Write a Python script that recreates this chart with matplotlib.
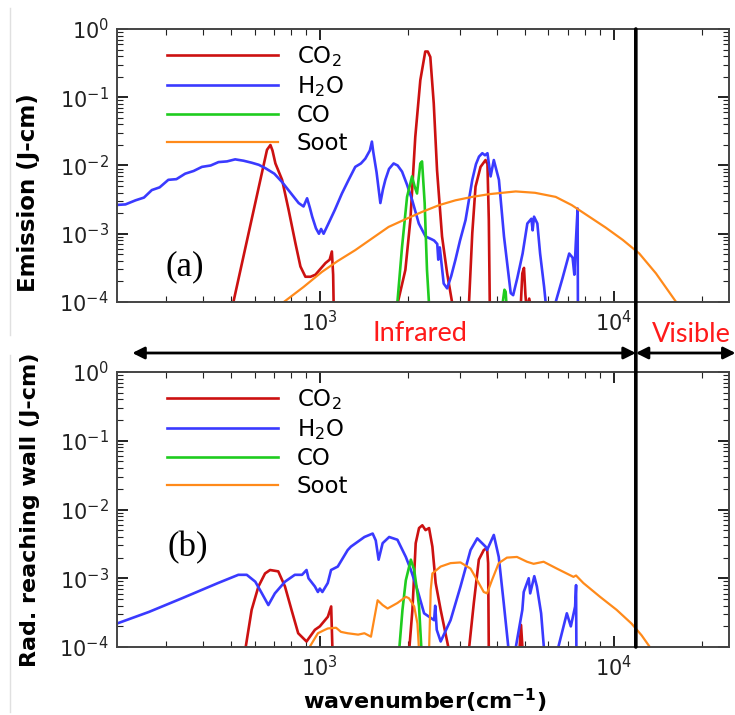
import numpy as np
import matplotlib
matplotlib.use("Agg")
import matplotlib.pyplot as plt
from matplotlib import transforms
from matplotlib.patches import ConnectionPatch
from matplotlib.lines import Line2D
from matplotlib.ticker import LogLocator, NullFormatter

plt.rcParams["font.family"] = ["DejaVu Sans"]
plt.rcParams["mathtext.default"] = "regular"

# ============================================================
# DATA  (x = wavenumber cm-1, y = log10 of value; None = gap below 1e-4)
# ============================================================
# ---- (a) emission ----
a_co2_x = [505, 661, 679, 690, 706, 744, 783, 826, 859, 893, 930, 966, 1045, 1080, 1099, 1110, 1115, None,
           1833, 1955, 2033, 2113, 2198, 2285, 2330, 2377, 2442, 2506, 2606, 2712, 2818, None,
           3216, 3303, 3388, 3524, 3665, 3720, 3760, 3790, None,
           4830, 4889, 4953, 5010, 5060, None,
           5100, 5160, 5220]
a_co2_y = [-4.05, -1.77, -1.70, -1.78, -1.97, -2.21, -2.65, -3.14, -3.48, -3.63, -3.63, -3.60, -3.43, -3.38, -3.26, -3.6, -4.1, None,
           -4.05, -3.53, -2.80, -1.58, -0.75, -0.33, -0.33, -0.41, -1.09, -2.07, -3.04, -3.58, -4.0, None,
           -4.05, -2.99, -2.31, -2.02, -1.92, -1.98, -2.8, -4.1, None,
           -4.05, -3.58, -3.50, -3.9, -4.1, None,
           -4.05, -3.95, -4.05]

a_h2o_x = [200, 218, 236, 252, 268, 285, 305, 325, 348, 372, 397, 425, 452, 483, 515, 550, 587, 620, 653, 700,
           743, 795, 847, 880, 905, 925, 942, 970, 993, 1010, 1030, 1070, 1125, 1189, 1250, 1320, 1380, 1428,
           1480, 1504, 1520, 1560, 1607, 1640, 1671, 1720, 1783, 1840, 1905, 1980, 2060, 2172, 2290, 2400,
           2450, 2510, 2530, 2560, 2640, 2712, 2800, 2895, 3000, 3133, 3303, 3400, 3482, 3573, 3650, 3720,
           3813, 3910, 4070, 4235, 4464, 4550, 4700, 4900, 5085, 5250, 5300, 5360, 5500, 5620, 5800, 5900, None,
           6300, 6350, 6700, 7060, 7250, 7350, 7430, 7540, 7560]
a_h2o_y = [-2.58, -2.57, -2.51, -2.47, -2.36, -2.32, -2.21, -2.20, -2.12, -2.08, -2.02, -2.00, -1.95, -1.94, -1.91, -1.93, -1.96, -1.99, -2.04, -2.12,
           -2.24, -2.40, -2.55, -2.60, -2.48, -2.62, -2.75, -2.92, -3.00, -2.93, -3.00, -2.85, -2.65, -2.41, -2.22, -2.02, -1.97, -1.90,
           -1.78, -1.65, -1.80, -2.10, -2.55, -2.35, -2.21, -2.05, -1.97, -2.00, -2.09, -2.28, -2.50, -2.85, -3.04, -3.08,
           -3.10, -3.15, -3.38, -3.20, -3.73, -3.80, -3.62, -3.38, -3.10, -2.80, -2.21, -1.98, -1.87, -1.82, -1.85, -1.82,
           -2.16, -1.92, -2.21, -3.04, -3.87, -3.90, -3.65, -3.29, -2.85, -2.78, -2.95, -2.75, -2.85, -3.29, -3.78, -4.1, None,
           -4.1, -4.0, -3.65, -3.29, -3.35, -3.60, -3.16, -2.63, -4.2]

a_co_x = [1833, 1905, 1981, 2060, 2100, 2142, 2198, 2228, 2274, 2316, 2355, None,
          4180, 4250, 4290, 4320]
a_co_y = [-4.05, -3.19, -2.46, -2.16, -2.30, -2.41, -1.97, -1.94, -2.55, -3.53, -4.05, None,
          -4.05, -3.82, -3.85, -4.05]

a_soot_x = [754, 880, 1016, 1150, 1320, 1504, 1714, 1950, 2228, 2550, 2895, 3300, 3767, 4643, 5400, 6350,
            7200, 8260, 9400, 10740, 12230, 13930, 16320, 17000]
a_soot_y = [-4.0, -3.78, -3.56, -3.40, -3.24, -3.07, -2.90, -2.79, -2.68, -2.58, -2.51, -2.46, -2.42, -2.38, -2.40, -2.46,
            -2.58, -2.75, -2.91, -3.09, -3.29, -3.58, -4.0, -4.1]

# ---- (b) radiation reaching wall ----
b_co2_x = [557, 586, 618, 651, 677, 722, 761, 801, 844, 901, 962, 1000, 1065, 1093, 1105, None,
           2014, 2066, 2120, 2176, 2233, 2290, 2354, 2416, 2479, 2578, 2752, None,
           3215, 3343, 3477, 3614, 3708, 3740, 3760, None,
           4780, 4840, 4900]
b_co2_y = [-4.05, -3.46, -3.12, -2.93, -2.88, -2.90, -3.12, -3.46, -3.80, -3.92, -3.75, -3.70, -3.56, -3.41, -4.1, None,
           -4.05, -3.46, -2.49, -2.27, -2.23, -2.30, -2.27, -2.54, -3.07, -3.46, -4.05, None,
           -4.05, -3.36, -2.73, -2.59, -2.56, -2.78, -4.1, None,
           -4.05, -3.68, -4.05]

b_h2o_x = [202, 262, 340, 450, 528, 564, 603, 635, 668, 703, 761, 822, 870, 901, 915, 962, 985, 1000, 1020,
           1064, 1092, 1151, 1244, 1276, 1418, 1513, 1550, 1585, 1636, 1722, 1837, 1962, 2041, 2149, 2264,
           2449, 2470, 2500, 2578, 2786, 3012, 3258, 3434, 3665, 3708, 3910, 4064, 4226, 4393, None,
           4625, 4890, 4943, 5140, 5200, 5370, 5480, 5665, 5800, None,
           6440, 6930, 7150, 7395, 7450, 7470]
b_h2o_y = [-3.665, -3.49, -3.29, -3.07, -2.95, -2.95, -3.05, -3.22, -3.39, -3.22, -3.05, -2.95, -2.95, -2.88, -3.00, -3.12, -3.20, -3.15, -3.20,
           -3.07, -2.88, -2.83, -2.59, -2.54, -2.40, -2.35, -2.45, -2.73, -2.49, -2.40, -2.44, -2.69, -2.88, -3.17, -3.51,
           -3.61, -3.40, -3.75, -3.92, -3.61, -3.12, -2.59, -2.42, -2.54, -2.59, -2.37, -2.69, -3.36, -4.05, None,
           -4.05, -3.46, -3.20, -3.00, -3.22, -2.97, -3.12, -3.51, -4.05, None,
           -4.05, -3.51, -3.70, -3.41, -3.10, -4.1]

b_co_x = [1862, 1911, 1962, 2041, 2095, 2149, 2176, 2218]
b_co_y = [-4.05, -3.46, -3.03, -2.73, -2.88, -3.22, -3.41, -4.05]

b_soot_x = [923, 985, 1040, 1065, 1136, 1180, 1244, 1350, 1418, 1493, 1530, 1573, 1636, 1701, 1837, 1962, 2010,
            2095, 2149, 2176, None,
            2354, 2385, 2416, 2578, 2786, 3012, 3258, 3434, 3614, 3708, 3852, 4064, 4333, 4688, 5072, 5341,
            5777, 6412, 7300, 7450, 7890, 8990, 10240, 11510, 12450, 13280, 13500]
b_soot_y = [-4.0, -3.80, -3.75, -3.73, -3.72, -3.78, -3.80, -3.82, -3.80, -3.85, -3.60, -3.32, -3.39, -3.44, -3.36, -3.27, -3.29,
            -3.41, -3.66, -4.05, None,
            -4.05, -3.17, -2.93, -2.83, -2.78, -2.77, -2.86, -3.03, -3.20, -3.22, -3.03, -2.78, -2.70, -2.69, -2.76, -2.79,
            -2.76, -2.86, -2.98, -2.96, -3.07, -3.27, -3.46, -3.66, -3.83, -4.0, -4.1]

species = [r"CO$_2$", r"H$_2$O", "CO", "Soot"]
colors = ["#cc1111", "#3a3aff", "#1fcc1f", "#ff8a1a"]

IR_START = 230      # left end of "Infrared" arrow
VIS_EDGE = 11900    # infrared / visible boundary
VIS_END = 26000     # right end of "Visible" arrow

# ============================================================
# FIGURE
# ============================================================
fig = plt.figure(figsize=(7.35, 7.15), dpi=100)
ax_a = fig.add_axes([117/735, 1-302/715, 612/735, 273/715])
ax_b = fig.add_axes([117/735, 1-647/715, 612/735, 275/715])

panels = [
    (ax_a, [(a_co2_x, a_co2_y), (a_h2o_x, a_h2o_y), (a_co_x, a_co_y), (a_soot_x, a_soot_y)], "(a)", (0.111, 0.128)),
    (ax_b, [(b_co2_x, b_co2_y), (b_h2o_x, b_h2o_y), (b_co_x, b_co_y), (b_soot_x, b_soot_y)], "(b)", (0.116, 0.36)),
]

for ax, series, tag, tagpos in panels:
    for (xs, ys), name, c in zip(series, species, colors):
        x = np.array(xs, dtype=float)
        y = 10 ** np.array(ys, dtype=float)
        lw = 1.6 if name == "Soot" else 1.9
        ax.plot(x, y, color=c, lw=lw, label=name)

    ax.set_xscale("log")
    ax.set_yscale("log")
    ax.set_xlim(204, 24700)
    ax.set_ylim(1e-4, 1)
    ax.yaxis.set_major_locator(LogLocator(base=10, numticks=10))
    ax.yaxis.set_minor_locator(LogLocator(base=10, subs=np.arange(2, 10), numticks=10))
    ax.xaxis.set_minor_formatter(NullFormatter())
    ax.yaxis.set_minor_formatter(NullFormatter())
    ax.tick_params(which="both", direction="in", top=True, right=True, labelsize=15, colors="#222222")
    ax.tick_params(which="major", length=8, width=1.4, pad=6)
    ax.tick_params(which="minor", length=4, width=0.8)
    for sp in ax.spines.values():
        sp.set_color("#444444")
        sp.set_linewidth(1.4)

    ax.legend(loc="upper left", bbox_to_anchor=(0.082, 0.945), frameon=False,
              handlelength=4.85, handletextpad=0.8, labelspacing=0.22,
              borderpad=0, borderaxespad=0, fontsize=16.5)
    ax.text(tagpos[0], tagpos[1], tag, transform=ax.transAxes, ha="center", va="center",
            fontsize=25, family="Liberation Serif")

ax_a.set_ylabel("Emission (J-cm)", fontsize=16.5, fontweight="bold")
ax_a.yaxis.set_label_coords(-0.126, 0.40)
ax_b.set_ylabel("Rad. reaching wall (J-cm)", fontsize=16, fontweight="bold")
ax_b.yaxis.set_label_coords(-0.126, 0.498)
ax_b.set_xlabel(r"wavenumber(cm$^{\mathbf{-1}}$)", fontsize=16, fontweight="bold")
ax_b.xaxis.set_label_coords(0.503, -0.145)

# boundary line across both panels
con = ConnectionPatch(xyA=(VIS_EDGE, 1), coordsA=ax_a.transData,
                      xyB=(VIS_EDGE, 1e-4), coordsB=ax_b.transData,
                      color="black", lw=2.6, zorder=5)
fig.add_artist(con)

# band arrows between panels
trans = transforms.blended_transform_factory(ax_b.transData, fig.transFigure)
arrow_y = 1 - 353/715
arr = dict(arrowstyle="<|-|>", color="black", lw=2, mutation_scale=18, shrinkA=0, shrinkB=0)
ax_b.annotate("", xy=(VIS_EDGE, arrow_y), xytext=(IR_START, arrow_y), xycoords=trans,
              textcoords=trans, arrowprops=arr, annotation_clip=False)
ax_b.annotate("", xy=(VIS_END, arrow_y), xytext=(VIS_EDGE, arrow_y), xycoords=trans,
              textcoords=trans, arrowprops=arr, annotation_clip=False)
fig.text(420/735, 1-333/715, "Infrared", color="#ff1a1a", fontsize=19.5, family="Lato",
         ha="center", va="center")
fig.text(652/735, 1-335/715, "Visible", color="#ff1a1a", fontsize=19.5, family="Lato",
         ha="left", va="center")

# faint page edge lines from the source screenshot
fig.add_artist(Line2D([10/735, 10/735], [1-8/715, 1-335/715], color="#e0e0e0", lw=1))
fig.add_artist(Line2D([10/735, 10/735], [1-355/715, 1-712/715], color="#e0e0e0", lw=1))

fig.savefig("out.png", dpi=100)
